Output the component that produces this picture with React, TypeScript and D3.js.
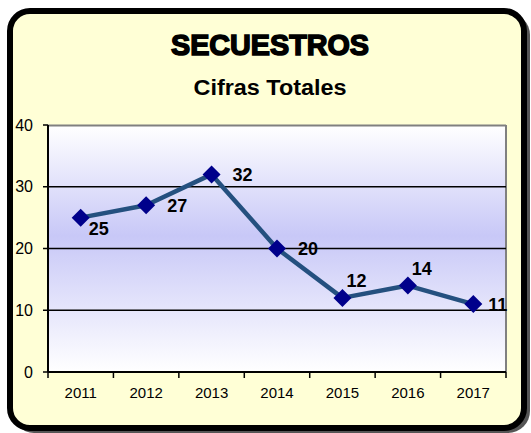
import * as d3 from "d3";

const years = ["2011", "2012", "2013", "2014", "2015", "2016", "2017"];
const values = [25, 27, 32, 20, 12, 14, 11];
// where each data label sits relative to its marker
const labelPlacement = ["belowRight", "right", "right", "right", "above", "above", "rightNear"];
const yTicks = [0, 10, 20, 30, 40];

const W = 531;
const H = 433;
const margin = { top: 125, right: 25, bottom: 61, left: 48 };

export default function App() {
  const innerW = W - margin.left - margin.right;
  const innerH = H - margin.top - margin.bottom;

  const x = d3.scaleBand<string>().domain(years).range([0, innerW]);
  const y = d3.scaleLinear().domain([0, 40]).range([innerH, 0]);

  const line = d3
    .line<number>()
    .x((_, i) => x(years[i])! + x.bandwidth() / 2)
    .y((d) => y(d));

  const font = "Arial, 'Liberation Sans', sans-serif";

  // label offset from the point, by placement keyword
  const labelOffset = (p: string) => {
    if (p === "belowRight") return { dx: 8, dy: 11 };
    if (p === "above") return { dx: 4, dy: -17 };
    if (p === "rightNear") return { dx: 15, dy: 0 };
    return { dx: 21, dy: 0 };
  };

  return (
    <svg
      width={W}
      height={H}
      style={{ position: "absolute", left: 0, top: 0, display: "block" }}
    >
      <defs>
        <linearGradient id="plotBg" x1="0" y1="0" x2="0" y2="1">
          <stop offset="0%" stopColor="#ffffff" />
          <stop offset="45%" stopColor="#c8c8f7" />
          <stop offset="100%" stopColor="#ffffff" />
        </linearGradient>
      </defs>
      <rect width={W} height={H} fill="#ffffff" />

      {/* frame with shadow */}
      <rect x={12} y={13} width={518} height={420} rx={22} fill="#555" />
      <rect
        x={10}
        y={11}
        width={514}
        height={417}
        rx={20}
        fill="#ffffd6"
        stroke="#000"
        strokeWidth={6}
      />

      <text
        x={270}
        y={55}
        textAnchor="middle"
        fontFamily={font}
        fontWeight="bold"
        fontSize={30}
        stroke="#000"
        strokeWidth={1.6}
        fill="#000"
        textLength={198}
        lengthAdjust="spacingAndGlyphs"
      >
        SECUESTROS
      </text>
      <text
        x={270}
        y={95}
        textAnchor="middle"
        fontFamily={font}
        fontWeight="bold"
        fontSize={22}
        fill="#000"
        textLength={153}
        lengthAdjust="spacingAndGlyphs"
      >
        Cifras Totales
      </text>

      <g transform={`translate(${margin.left},${margin.top})`}>
        <rect width={innerW} height={innerH} fill="url(#plotBg)" />
        <line x1={0} x2={innerW} y1={0.5} y2={0.5} stroke="#808080" strokeWidth={2} />
        <line x1={innerW} x2={innerW} y1={0} y2={innerH} stroke="#808080" strokeWidth={2} />

        {yTicks
          .filter((t) => t > 0 && t < 40)
          .map((t) => (
            <line
              key={t}
              x1={0}
              x2={innerW}
              y1={y(t)}
              y2={y(t)}
              stroke="#000"
              strokeWidth={1.5}
            />
          ))}

        {/* y axis */}
        <line x1={0} x2={0} y1={0} y2={innerH} stroke="#000" strokeWidth={2} />
        {yTicks.map((t) => (
          <g key={t} transform={`translate(0,${y(t)})`}>
            <line x1={-5} x2={0} stroke="#000" strokeWidth={1.5} />
            <text
              x={-15}
              dy="0.35em"
              textAnchor="end"
              fontFamily={font}
              fontSize={16}
              fill="#000"
            >
              {t}
            </text>
          </g>
        ))}

        {/* x axis */}
        <line x1={0} x2={innerW} y1={innerH} y2={innerH} stroke="#000" strokeWidth={2} />
        {years.map((yr, i) => (
          <g key={yr}>
            <line
              x1={x(yr)! + x.bandwidth()}
              x2={x(yr)! + x.bandwidth()}
              y1={innerH}
              y2={innerH + 6}
              stroke="#000"
              strokeWidth={1.5}
            />
            {i === 0 && (
              <line x1={0} x2={0} y1={innerH} y2={innerH + 6} stroke="#000" strokeWidth={1.5} />
            )}
            <text
              x={x(yr)! + x.bandwidth() / 2}
              y={innerH + 26}
              textAnchor="middle"
              fontFamily={font}
              fontSize={15}
              fill="#000"
            >
              {yr}
            </text>
          </g>
        ))}

        <path d={line(values) ?? ""} fill="none" stroke="#24507f" strokeWidth={4.5} strokeLinejoin="round" />

        {values.map((v, i) => {
          const cx = x(years[i])! + x.bandwidth() / 2;
          const cy = y(v);
          const s = 9;
          const o = labelOffset(labelPlacement[i]);
          return (
            <g key={i}>
              <path
                d={`M${cx},${cy - s}L${cx + s},${cy}L${cx},${cy + s}L${cx - s},${cy}Z`}
                fill="#00008b"
              />
              <text
                x={cx + o.dx}
                y={cy + o.dy}
                dy="0.36em"
                fontFamily={font}
                fontWeight="bold"
                fontSize={18}
                fill="#000"
              >
                {v}
              </text>
            </g>
          );
        })}
      </g>
    </svg>
  );
}
